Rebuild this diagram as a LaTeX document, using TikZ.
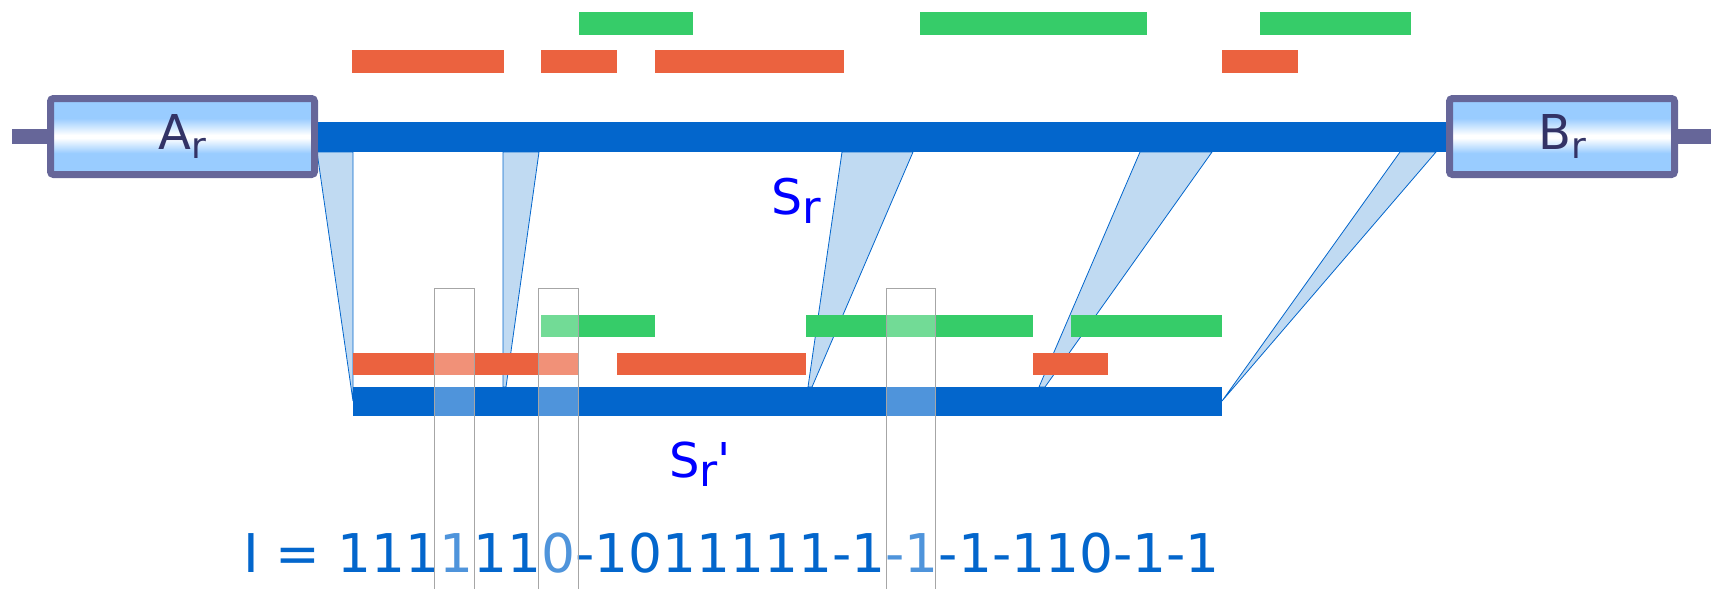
\documentclass[tikz,border=0pt]{standalone}
\usepackage{fontspec}
\setmainfont{DejaVu Sans}

\definecolor{strand}{HTML}{0366CC}
\definecolor{hitgreen}{HTML}{36CC69}
\definecolor{hitred}{HTML}{EB623F}
\definecolor{gapfill}{HTML}{C0DAF2}
\definecolor{tubeblue}{HTML}{99CCFF}
\definecolor{tubeedge}{HTML}{666699}
\definecolor{tubetext}{HTML}{333366}

% light blue tube with a white band through the middle
\pgfdeclareverticalshading{tube}{100bp}{color(0bp)=(tubeblue); color(39bp)=(tubeblue);
  color(49bp)=(white); color(51bp)=(white); color(62bp)=(tubeblue); color(100bp)=(tubeblue)}

% lowered index letter
\newcommand{\subidx}[2][1]{\raisebox{-9pt}{\scalebox{#1}{#2}}}

\tikzset{
  endbox/.style={draw=tubeedge, line width=7pt, rounded corners=3pt, shading=tube,
    minimum height=76pt, inner sep=0pt, text=tubetext, font=\fontsize{48}{56}\selectfont},
  stub/.style={draw=tubeedge, line width=15pt},
  strandline/.style={draw=strand, line width=30pt},
  gap/.style={fill=gapfill, draw=strand, line width=0.8pt},
  hitg/.style={fill=hitgreen},
  hitr/.style={fill=hitred},
  window/.style={draw=gray!70, line width=1pt},
}

\begin{document}
\begin{tikzpicture}[x=1pt, y=-1pt]
    \useasboundingbox (0,0) rectangle (1711,589);

    % gaps between the two strands
    \filldraw[gap] (317,152) -- (353,152) -- (353,401) -- cycle;
    \filldraw[gap] (503,152) -- (539,152) -- (506,387) -- (503,387) -- cycle;
    \filldraw[gap] (842,152) -- (913,152) -- (812,387) -- (808,387) -- cycle;
    \filldraw[gap] (1140,152) -- (1212,152) -- (1045,387) -- (1039,387) -- cycle;
    \filldraw[gap] (1400,152) -- (1436,152) -- (1222,401) -- cycle;

    % end blocks
    \node[endbox, minimum width=264pt] (ar) at (182.5,136.5) {A\subidx[0.75]{r}};
    \node[endbox, minimum width=225pt] (br) at (1562,136.5) {B\subidx[0.75]{r}};
    \draw[stub] (ar.west) -- (12,136.5);
    \draw[stub] (br.east) -- (1711,136.5);

    % strands
    \draw[strandline] (ar.east) -- (br.west);
    \fill[strand] (353,387) rectangle (1222,416);

    % hits on the upper strand
    \fill[hitg] (579,12) rectangle (693,35);
    \fill[hitg] (920,12) rectangle (1147,35);
    \fill[hitg] (1260,12) rectangle (1411,35);
    \fill[hitr] (352,50) rectangle (504,73);
    \fill[hitr] (541,50) rectangle (617,73);
    \fill[hitr] (655,50) rectangle (844,73);
    \fill[hitr] (1222,50) rectangle (1298,73);

    % hits on the lower strand
    \fill[hitg] (541,315) rectangle (655,337);
    \fill[hitg] (806,315) rectangle (1033,337);
    \fill[hitg] (1071,315) rectangle (1222,337);
    \fill[hitr] (353,353) rectangle (579,375);
    \fill[hitr] (617,353) rectangle (806,375);
    \fill[hitr] (1033,353) rectangle (1108,375);

    % labels
    \node[anchor=base west, inner sep=0pt, text=blue, font=\fontsize{49}{56}\selectfont]
      (sr) at (771,214) {S\subidx[0.92]{r}};
    \node[anchor=base west, inner sep=0pt, text=blue, font=\fontsize{48}{56}\selectfont]
      (srp) at (669,477) {S\subidx[0.92]{r}\textquotesingle};
    \node[anchor=base west, inner sep=0pt, text=strand, font=\fontsize{53.4}{60}\selectfont]
      (code) at (243,572) {I = 1111110-1011111-1-1-1-110-1-1};

    % windows
    \fill[white, fill opacity=0.3] (434,288) rectangle (474,589);
    \fill[white, fill opacity=0.3] (538,288) rectangle (578,589);
    \fill[white, fill opacity=0.3] (886,288) rectangle (935,589);
    \draw[window] (434,589) |- (474,288) -- (474,589);
    \draw[window] (538,589) |- (578,288) -- (578,589);
    \draw[window] (886,589) |- (935,288) -- (935,589);
\end{tikzpicture}
\end{document}
